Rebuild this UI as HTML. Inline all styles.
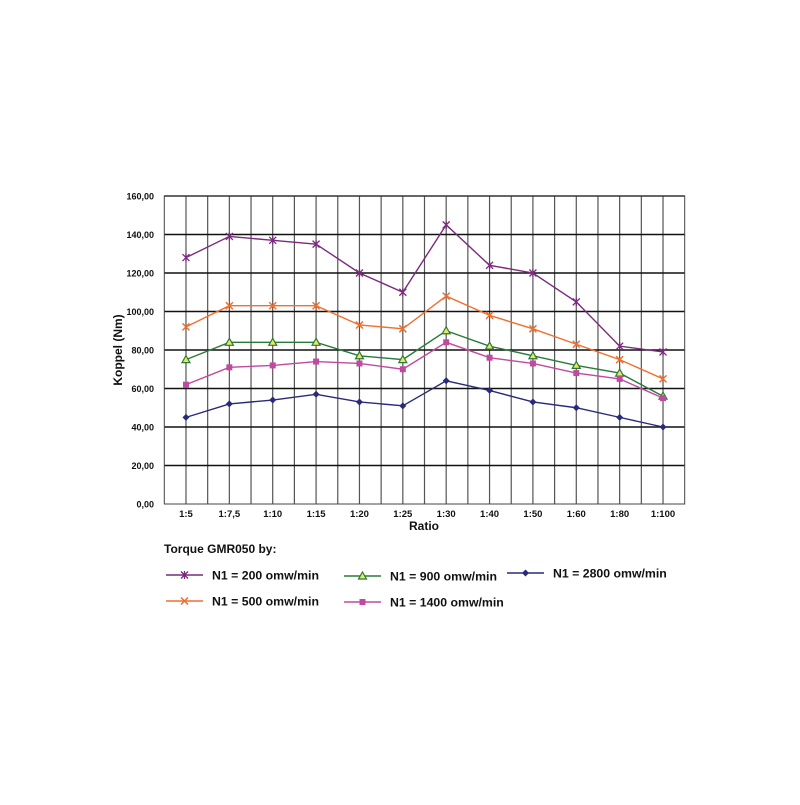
<!DOCTYPE html>
<html><head><meta charset="utf-8"><style>
html,body{margin:0;padding:0;background:#fff;}
svg text{font-family:"Liberation Sans",Arial,sans-serif;font-weight:bold;fill:#111;}
</style></head><body>
<svg id="c" width="800" height="800" xmlns="http://www.w3.org/2000/svg"></svg>
<script>
const s=document.getElementById('c');let h='';
const L=164.3,R=684.7,T=196,B=504,cw=(R-L)/12;
const X=i=>L+cw*(i+0.5), Y=v=>B-(v/160)*(B-T);
for(let k=1;k<24;k++){const x=L+k*cw/2;h+=`<line x1="${x}" y1="${T}" x2="${x}" y2="${B}" stroke="#555" stroke-width="1.2"/>`;}
for(let v=0;v<=160;v+=20){const y=Y(v);h+=`<line x1="${L}" y1="${y}" x2="${R}" y2="${y}" stroke="#111" stroke-width="${v==0?1:1.4}"/>`;
h+=`<text x="154" y="${y+3.5}" font-size="9" text-anchor="end">${v},00</text>`;}
h+=`<rect x="${L}" y="${T}" width="${R-L}" height="${B-T}" fill="none" stroke="#444" stroke-width="1"/>`;
const cats=['1:5','1:7,5','1:10','1:15','1:20','1:25','1:30','1:40','1:50','1:60','1:80','1:100'];
cats.forEach((c,i)=>h+=`<text x="${X(i)}" y="517" font-size="9.5" text-anchor="middle">${c}</text>`);
h+=`<text x="424" y="530" font-size="12" text-anchor="middle">Ratio</text>`;
h+=`<text transform="translate(122,350) rotate(-90)" font-size="12" text-anchor="middle">Koppel (Nm)</text>`;
const S=[
['#7b2a7e','star',[128,139,137,135,120,110,145,124,120,105,82,79]],
['#ef6f2e','x',[92,103,103,103,93,91,108,98,91,83,75,65]],
['#2a7a3a','tri',[75,84,84,84,77,75,90,82,77,72,68,56]],
['#c04aa0','sq',[62,71,72,74,73,70,84,76,73,68,65,55]],
['#2a2a7a','dia',[45,52,54,57,53,51,64,59,53,50,45,40]]];
function mk(t,x,y,c){
if(t=='star')return `<path d="M${x-3.5} ${y-3.5}L${x+3.5} ${y+3.5}M${x-3.5} ${y+3.5}L${x+3.5} ${y-3.5}M${x} ${y-4}L${x} ${y+4}" stroke="${c}" stroke-width="1.3"/>`;
if(t=='x')return `<path d="M${x-3.5} ${y-3.5}L${x+3.5} ${y+3.5}M${x-3.5} ${y+3.5}L${x+3.5} ${y-3.5}" stroke="${c}" stroke-width="1.5"/>`;
if(t=='tri')return `<path d="M${x} ${y-4}L${x+4} ${y+3}L${x-4} ${y+3}Z" fill="#e8e860" stroke="${c}" stroke-width="1.2"/>`;
if(t=='sq')return `<rect x="${x-3}" y="${y-3}" width="6" height="6" fill="${c}"/>`;
return `<path d="M${x} ${y-3.5}L${x+3.5} ${y}L${x} ${y+3.5}L${x-3.5} ${y}Z" fill="${c}"/>`;}
S.forEach(([c,t,d])=>{h+=`<polyline fill="none" stroke="${c}" stroke-width="1.4" points="${d.map((v,i)=>X(i)+','+Y(v)).join(' ')}"/>`;
d.forEach((v,i)=>h+=mk(t,X(i),Y(v),c));});
h+=`<text x="164" y="553" font-size="12">Torque GMR050 by:</text>`;
const LG=[[166,575,0,'N1 = 200 omw/min'],[166,601,1,'N1 = 500 omw/min'],[344,576,2,'N1 = 900 omw/min'],[344,602,3,'N1 = 1400 omw/min'],[507,573,4,'N1 = 2800 omw/min']];
LG.forEach(([x,y,k,t])=>{const c=S[k][0];h+=`<line x1="${x}" y1="${y}" x2="${x+37}" y2="${y}" stroke="${c}" stroke-width="1.5"/>`+mk(S[k][1],x+18.5,y,c)+`<text x="${x+46}" y="${y+4.5}" font-size="12.3">${t}</text>`;});
s.innerHTML=h;
</script>
</body></html>
